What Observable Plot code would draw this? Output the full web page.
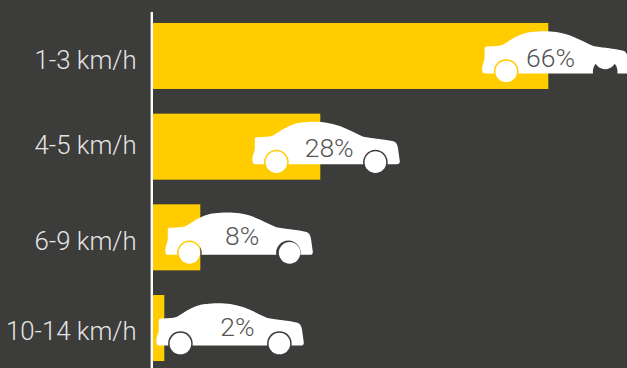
<!DOCTYPE html>
<html>
<head>
<meta charset="utf-8">
<script src="https://cdn.jsdelivr.net/npm/d3@7"></script>
<script src="https://cdn.jsdelivr.net/npm/@observablehq/plot@0.6"></script>
<style>
  html, body { margin: 0; padding: 0; background: #3c3c3b; width: 627px; height: 368px; overflow: hidden; }
</style>
</head>
<body>
<div id="chart"></div>
<script>
// Share of collisions by speed band
const speeds = ["1-3 km/h", "4-5 km/h", "6-9 km/h", "10-14 km/h"];
const shares = [66, 28, 8, 2];

// Where each car sits along the share axis, and where its percentage is written
const rearWheels = [58.9, 20.6, 6.1, 4.6];
const frontWheels = [75.4, 37.1, 22.8, 21.1];
const frontWheelLift = [13, 0, 0, 0];
const labelPositions = [66.3, 29.4, 14.9, 14.1];
const labelShift = [1.6, 0.9, -0.9, -0.8];
const tickShift = [4.4, -1.1, 3.6, 3.3];

const YELLOW = "#ffcc00";
const WHEEL_R = 10.8;

// Side-on saloon silhouette with the rear wheel hub at the origin
const carSymbol = {
  draw(c, size) {
    const s = Math.sqrt(size / Math.PI) / 10;
    c.moveTo(-21 * s, 2 * s);
    c.bezierCurveTo(-24 * s, 2 * s, -24.2 * s, 0, -24 * s, -4 * s);
    c.bezierCurveTo(-23.6 * s, -8 * s, -21.6 * s, -11 * s, -21.6 * s, -14 * s);
    c.lineTo(-21.6 * s, -23 * s);
    c.bezierCurveTo(-21.6 * s, -24.6 * s, -20.6 * s, -25 * s, -19 * s, -25 * s);
    c.bezierCurveTo(-13 * s, -25.4 * s, -7 * s, -25 * s, -3 * s, -27 * s);
    c.bezierCurveTo(3 * s, -30.5 * s, 8 * s, -34.5 * s, 16 * s, -37.5 * s);
    c.bezierCurveTo(24 * s, -40.5 * s, 40 * s, -41 * s, 50 * s, -39.5 * s);
    c.bezierCurveTo(64 * s, -37.5 * s, 75 * s, -31 * s, 87 * s, -25.5 * s);
    c.bezierCurveTo(97 * s, -23.5 * s, 108 * s, -23 * s, 117 * s, -20.8 * s);
    c.bezierCurveTo(120 * s, -20 * s, 121 * s, -17 * s, 121.6 * s, -14 * s);
    c.lineTo(123.4 * s, -1 * s);
    c.bezierCurveTo(123.6 * s, 1 * s, 122.5 * s, 2 * s, 120.5 * s, 2 * s);
    c.lineTo(111.1 * s, 2 * s);
    c.arc(99 * s, 0, 12.3 * s, 0.163, Math.PI - 0.163, true);
    c.lineTo(12.1 * s, 2 * s);
    c.arc(0, 0, 12.3 * s, 0.163, Math.PI - 0.163, true);
    c.closePath();
  }
};

const bars = speeds.map((speed, i) => ({ speed, share: shares[i] }));
const cars = speeds.map((speed, i) => ({
  speed,
  rear: rearWheels[i],
  front: frontWheels[i],
  lift: frontWheelLift[i]
}));
const labels = speeds.map((speed, i) => ({
  speed,
  x: labelPositions[i],
  text: `${shares[i]}%`,
  shift: labelShift[i]
}));
const ticks = speeds.map((speed, i) => ({ speed, shift: tickShift[i] }));

const FONT = "Roboto, 'Noto Sans', sans-serif";
const wheelDrop = 15;

const chart = Plot.plot({
  width: 627,
  height: 368,
  marginLeft: 152.3,
  marginRight: 0.7,
  marginTop: 12,
  marginBottom: 0,
  style: { background: "transparent", fontFamily: FONT },
  x: { domain: [0, 79], axis: null },
  y: {
    domain: speeds,
    range: [13.9, 370.1],
    paddingInner: 0.272,
    paddingOuter: 0.1,
    round: false,
    axis: null
  },
  marks: [
    Plot.barX(bars, { x: "share", y: "speed", fill: YELLOW }),
    Plot.ruleX([0], { stroke: "#ffffff", strokeWidth: 2.4, dx: -1 }),
    // Speed-band names, right-aligned against the baseline
    ...ticks.map(tick => Plot.text([tick], {
      x: 0,
      y: "speed",
      text: "speed",
      textAnchor: "end",
      fontSize: 25.8,
      fontWeight: 300,
      fill: "#e4e4e4",
      dx: -16,
      dy: tick.shift
    })),
    // Car bodies, with the wheel arches left open so the backdrop shows through
    Plot.dot(cars, {
      x: "rear",
      y: "speed",
      symbol: carSymbol,
      r: 10,
      fill: "#ffffff",
      stroke: "none",
      dy: wheelDrop
    }),
    Plot.dot(cars, {
      x: "rear",
      y: "speed",
      r: WHEEL_R,
      fill: "#ffffff",
      stroke: "none",
      dy: wheelDrop
    }),
    ...cars.map(car => Plot.dot([car], {
      x: "front",
      y: "speed",
      r: WHEEL_R,
      fill: "#ffffff",
      stroke: "none",
      dy: wheelDrop - car.lift
    })),
    ...labels.map(label => Plot.text([label], {
      x: "x",
      y: "speed",
      text: "text",
      fontSize: 26.5,
      fontWeight: 300,
      fill: "#555555",
      dy: label.shift
    }))
  ]
});

document.getElementById("chart").appendChild(chart);
</script>
</body>
</html>
